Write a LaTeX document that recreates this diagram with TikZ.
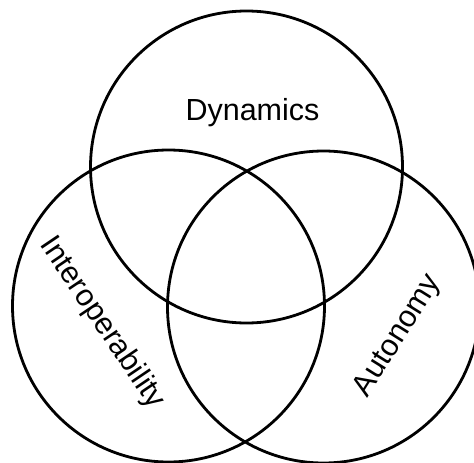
\documentclass[tikz,border=0pt]{standalone}
\usepackage{fontspec}
\setmainfont{Liberation Sans}
\begin{document}
\begin{tikzpicture}[x=1pt,y=-1pt,
  venn/.style={circle,draw=black,line width=2.8pt,minimum size=312pt,inner sep=0pt},
  lbl/.style={font=\fontsize{30.5}{36}\selectfont,inner sep=0pt}]
\useasboundingbox (0,0) rectangle (474,463);
\clip (0,0) rectangle (474,463);
\node[venn] (dyn) at (246.5,167) {};
\node[venn] (int) at (168.5,306) {};
\node[venn] (aut) at (323.5,307) {};
\node[lbl] (tdyn) at (252.5,113) {Dynamics};
\node[lbl,rotate=-56] (tint) at (102,323) {Interoperability};
\node[lbl,rotate=58] (taut) at (398,336) {Autonomy};
\end{tikzpicture}
\end{document}
